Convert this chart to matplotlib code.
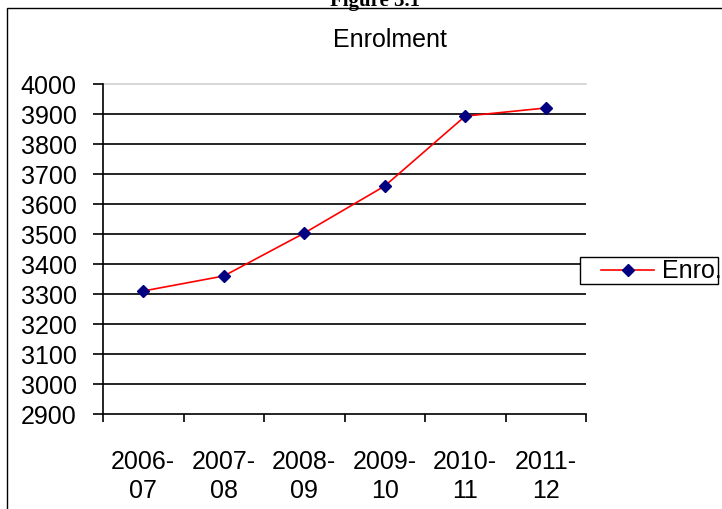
import matplotlib
matplotlib.use("Agg")
import matplotlib.pyplot as plt
from matplotlib.patches import Rectangle
from matplotlib.lines import Line2D

categories = ["2006-\n07", "2007-\n08", "2008-\n09", "2009-\n10", "2010-\n11", "2011-\n12"]
enrolment = [3310, 3360, 3503, 3660, 3893, 3920]
series_name = "Enro."
yticks = list(range(2900, 4001, 100))

W, H = 722, 510
fig = plt.figure(figsize=(W / 100, H / 100), dpi=100)
plt.rcParams['font.family'] = ['Liberation Sans', 'DejaVu Sans']

def fx(px):
    return px / W

def fy(py):
    return 1 - py / H

# outer frame
fig.add_artist(Rectangle((fx(7), fy(540)), fx(760) - fx(7), fy(9) - fy(540),
                         transform=fig.transFigure, fill=False, edgecolor='black',
                         linewidth=1.0, clip_on=False))
# top caption (cut off in the reference)
fig.text(fx(375), fy(6), "Figure 3.1", family='Liberation Serif', fontweight='bold',
         fontsize=15, ha='center', va='baseline')

ax = fig.add_axes([fx(103), fy(415), fx(586) - fx(103), fy(85) - fy(415)])
x = list(range(len(categories)))
ax.plot(x, enrolment, color='#ff0000', linewidth=1.2, marker='D', markersize=6.6,
        markerfacecolor='#000080', markeredgecolor='#000080', zorder=3)

ax.set_xlim(-0.5, len(categories) - 0.5)
ax.set_ylim(2900, 4000)
for v in yticks[1:-1]:
    ax.axhline(v, color='black', linewidth=1.2, zorder=1)
ax.axhline(4000, color='#d0d0d0', linewidth=1.2, zorder=1, clip_on=False)

ax.set_yticks(yticks)
ax.set_yticklabels([str(v) for v in yticks], fontsize=18)
ax.set_xticks([i - 0.5 for i in range(len(categories) + 1)], minor=False)
ax.set_xticklabels([""] * (len(categories) + 1))
ax.set_xticks(x, minor=True)
ax.set_xticklabels(categories, minor=True, fontsize=18, linespacing=1.3)
ax.tick_params(axis='x', which='minor', length=0, pad=25)
ax.tick_params(axis='x', which='major', length=6, width=1.2, direction='out')
ax.tick_params(axis='y', length=7, width=1.2, direction='out', pad=12)

for s in ['top', 'right']:
    ax.spines[s].set_visible(False)
for s in ['left', 'bottom']:
    ax.spines[s].set_linewidth(1.2)

fig.text(fx(390), fy(40), "Enrolment", fontsize=18, ha='center', va='center')

# legend box
fig.add_artist(Rectangle((fx(580), fy(285)), fx(718) - fx(580), fy(258) - fy(285),
                         transform=fig.transFigure, fill=True, facecolor='white',
                         edgecolor='black', linewidth=1.0, zorder=5))
fig.add_artist(Line2D([fx(601), fx(654)], [fy(271), fy(271)], transform=fig.transFigure,
                      color='#ff0000', linewidth=1.2, zorder=6))
fig.add_artist(Line2D([fx(628)], [fy(271)], transform=fig.transFigure, marker='D',
                      markersize=6.6, markerfacecolor='#000080', markeredgecolor='#000080',
                      zorder=7))
fig.text(fx(662), fy(271), series_name, fontsize=18, ha='left', va='center', zorder=8)

fig.savefig("out.png", dpi=100)
